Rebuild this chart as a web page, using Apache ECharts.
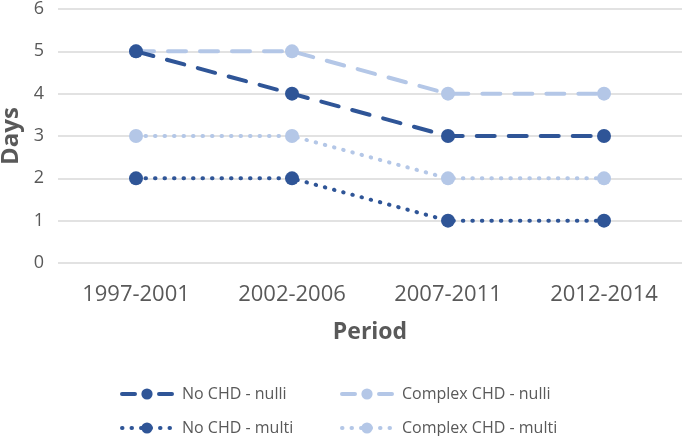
<!DOCTYPE html>
<html><head><meta charset="utf-8">
<script src="https://cdn.jsdelivr.net/npm/echarts@6/dist/echarts.min.js"></script>
<style>html,body{margin:0;padding:0;background:#fff}#c{width:685px;height:436px}</style>
</head><body><div id="c"></div>
<script>
const periods = ['1997-2001','2002-2006','2007-2011','2012-2014'];
const noChdNulli = [5,4,3,3];
const complexNulli = [5,5,4,4];
const noChdMulti = [2,2,1,1];
const complexMulti = [3,3,2,2];
const dark = '#2F5597', light = '#B4C7E7';
const font = '"Open Sans", "Liberation Sans", sans-serif';
const dashed = [18,14], dotted = [0.5,9];
function s(name, data, color, dash){
  return {name, type:'line', data, symbol:'circle', symbolSize:14,
    itemStyle:{color}, lineStyle:{color, width:4, type:dash, cap:'round'}, z: color===dark?3:2};
}
function lg(left, top, name, dash){
  return {left, top, orient:'horizontal', itemWidth:50, itemHeight:14,
    lineStyle:{width:4, type:dash, cap:'round'}, data:[name],
    textStyle:{color:'#595959',fontSize:16,fontFamily:font,padding:[0,0,0,5]}};
}
const chart = echarts.init(document.getElementById('c'));
chart.setOption({
  animation:false,
  textStyle:{fontFamily:font},
  grid:{left:58,right:3,top:9,bottom:173,containLabel:false,outerBoundsMode:'none'},
  xAxis:{type:'category',data:periods,boundaryGap:true,
    axisLine:{show:false},axisTick:{show:false},
    axisLabel:{color:'#595959',fontSize:22,margin:21,fontFamily:font},
    name:'Period',nameLocation:'middle',nameGap:58,
    nameTextStyle:{color:'#595959',fontSize:23,fontWeight:'bold',fontFamily:font}},
  yAxis:{type:'value',min:0,max:6,interval:1,
    axisLine:{show:false},axisTick:{show:false},
    splitLine:{lineStyle:{color:'#D9D9D9',width:1.5}},
    axisLabel:{color:'#595959',fontSize:18,margin:14,fontFamily:font},
    name:'Days',nameLocation:'middle',nameGap:33,nameRotate:90,
    nameTextStyle:{color:'#595959',fontSize:24,fontWeight:'bold',fontFamily:font}},
  legend:[
    lg(115, 381, 'No CHD - nulli', [13,24]),
    lg(115, 415, 'No CHD - multi', dotted),
    lg(335, 381, 'Complex CHD - nulli', [13,24]),
    lg(335, 415, 'Complex CHD - multi', dotted)
  ],
  series:[
    s('Complex CHD - nulli', complexNulli, light, dashed),
    s('Complex CHD - multi', complexMulti, light, dotted),
    s('No CHD - nulli', noChdNulli, dark, dashed),
    s('No CHD - multi', noChdMulti, dark, dotted)
  ]
});
</script></body></html>
